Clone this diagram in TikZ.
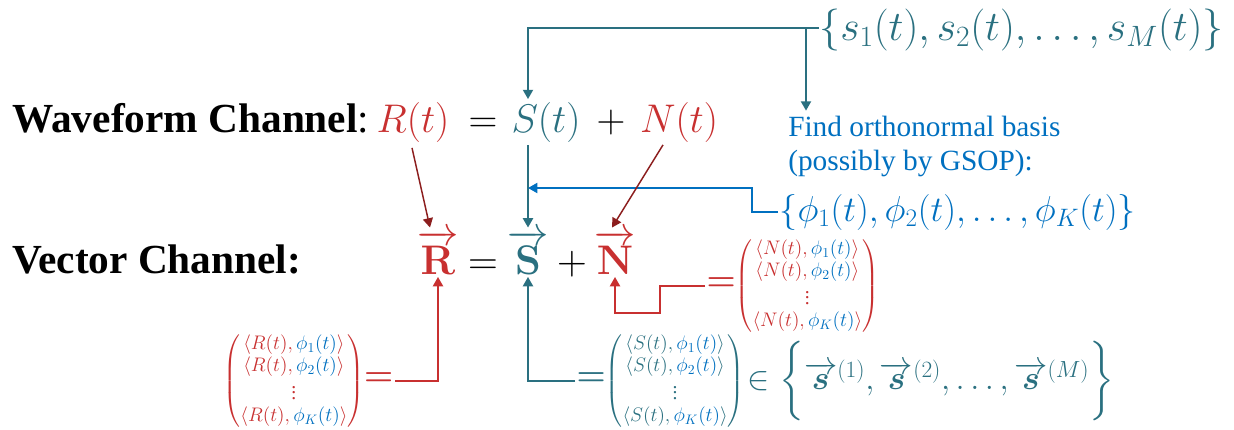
\RequirePackage{fix-cm}
\documentclass[tikz,border=0pt]{standalone}
\usepackage{amsmath}
\usepackage[no-math]{fontspec}
\setmainfont{Liberation Serif}
\usetikzlibrary{arrows.meta,calc}
\definecolor{myred}{RGB}{200,48,48}
\definecolor{myteal}{RGB}{42,112,128}
\definecolor{myblue}{RGB}{0,112,192}
\definecolor{mydark}{RGB}{140,30,30}
\tikzset{
  title/.style={font=\fontsize{31}{36}\selectfont, inner sep=0pt},
  mth/.style={font=\fontsize{30}{36}\selectfont, inner sep=2pt},
  vecn/.style={font=\fontsize{31}{36}\selectfont, inner sep=2pt},
  matn/.style={font=\fontsize{14.7}{17}\selectfont, inner sep=1pt},
  tip/.style={-{Triangle[length=7pt,width=7.5pt]}},
  tealline/.style={draw=myteal, line width=1.5pt, tip},
  blueline/.style={draw=myblue, line width=1.5pt, tip},
  redline/.style={draw=myred, line width=1.5pt, tip},
  darkline/.style={draw=mydark, line width=1.1pt, tip},
}
\newcommand{\bigeq}{{\fontsize{25}{30}\selectfont$\boldsymbol{=}$}}
\begin{document}
\begin{tikzpicture}[x=0.75pt,y=-0.75pt]
\useasboundingbox (0,0) rectangle (1234,429);

% titles
\node[title, anchor=base west] (wf) at (12,132) {\textbf{Waveform Channel}:};
\node[title, anchor=base west] (vc) at (12,273) {\textbf{Vector Channel:}};

% waveform equation
\node[mth, anchor=base, text=myred] (Rt) at (413,132) {$R(t)$};
\node[mth, anchor=base] (eq1) at (483,132) {$=$};
\node[mth, anchor=base, text=myteal] (St) at (546,132) {$S(t)$};
\node[mth, anchor=base] (pl1) at (611,132) {$+$};
\node[mth, anchor=base, text=myred] (Nt) at (679,132) {$N(t)$};

% vector equation
\node[vecn, anchor=base, text=myred] (vR) at (438,274) {$\overrightarrow{\mathbf{R}}$};
\node[vecn, anchor=base] (eq2) at (483,274) {$=$};
\node[vecn, anchor=base, text=myteal] (vS) at (528,274) {$\overrightarrow{\mathbf{S}}$};
\node[vecn, anchor=base] (pl2) at (572,274) {$+$};
\node[vecn, anchor=base, text=myred] (vN) at (615,274) {$\overrightarrow{\mathbf{N}}$};

% signal set
\node[anchor=west, text=myteal, inner sep=0pt, font=\fontsize{31.5}{36}\selectfont] (sset) at (819,30) {$\{s_1(t), s_2(t), \dots, s_M(t)\}$};
\coordinate (sl) at (sset.west |- 0,28);

% basis text
\node[anchor=north west, inner sep=0pt, align=left, text=myblue, font=\fontsize{22}{25.5}\selectfont] (find) at (788,116) {Find orthonormal basis\\(possibly by GSOP):};
\node[anchor=west, inner sep=1pt, text=myblue, font=\fontsize{27}{32}\selectfont] (pset) at (778,212) {$\{\phi_1(t), \phi_2(t), \dots, \phi_K(t)\}$};

% matrices
\node[matn, anchor=east, text=myred] (RM) at (395,381) {$\begin{pmatrix}
\langle R(t), \textcolor{myblue}{\phi_1(t)}\rangle\\
\langle R(t), \textcolor{myblue}{\phi_2(t)}\rangle\\
\vdots\\
\langle R(t), \textcolor{myblue}{\phi_K(t)}\rangle
\end{pmatrix}$\bigeq};

\node[matn, anchor=west, text=myteal] (SM) at (575,381) {\bigeq$\begin{pmatrix}
\langle S(t), \textcolor{myblue}{\phi_1(t)}\rangle\\
\langle S(t), \textcolor{myblue}{\phi_2(t)}\rangle\\
\vdots\\
\langle S(t), \textcolor{myblue}{\phi_K(t)}\rangle
\end{pmatrix}$};

\node[anchor=west, inner sep=1pt, text=myteal, font=\fontsize{25}{30}\selectfont] (Sset) at (SM.east) {$\in\left\{\rule[-25pt]{0pt}{63pt}\overrightarrow{\boldsymbol{s}}^{(1)}, \overrightarrow{\boldsymbol{s}}^{(2)}, \dots, \overrightarrow{\boldsymbol{s}}^{(M)}\right\}$};

\node[matn, anchor=west, text=myred] (NM) at (705,286) {\bigeq$\begin{pmatrix}
\langle N(t), \textcolor{myblue}{\phi_1(t)}\rangle\\
\langle N(t), \textcolor{myblue}{\phi_2(t)}\rangle\\
\vdots\\
\langle N(t), \textcolor{myblue}{\phi_K(t)}\rangle
\end{pmatrix}$};

% helper coordinates
\coordinate (tb) at (806,28);
\coordinate (bk) at (752,188);
\coordinate (nk) at (660,313);

% connectors
\draw[tealline] (sl) -| (St.north -| vS.north);
\draw[tealline, shorten >=4pt] (tb) -- (find.north -| tb);
\draw[tealline] (St.south -| vS.north) -- (vS.north);
\draw[blueline] (pset.west) -| (bk) -- (bk -| vS.north);
\draw[darkline] ($(Rt.south)+(-1,3)$) -- ($(vR.north)+(-8,0)$);
\draw[darkline] ($(Nt.south)+(-16,0)$) -- ($(vN.north)+(-3,0)$);
\draw[redline] (RM.east) -| (vR.south);
\draw[tealline] (SM.west) -| (vS.south);
\draw[redline] (NM.west) -| (nk) -| (vN.south);
\end{tikzpicture}
\end{document}
